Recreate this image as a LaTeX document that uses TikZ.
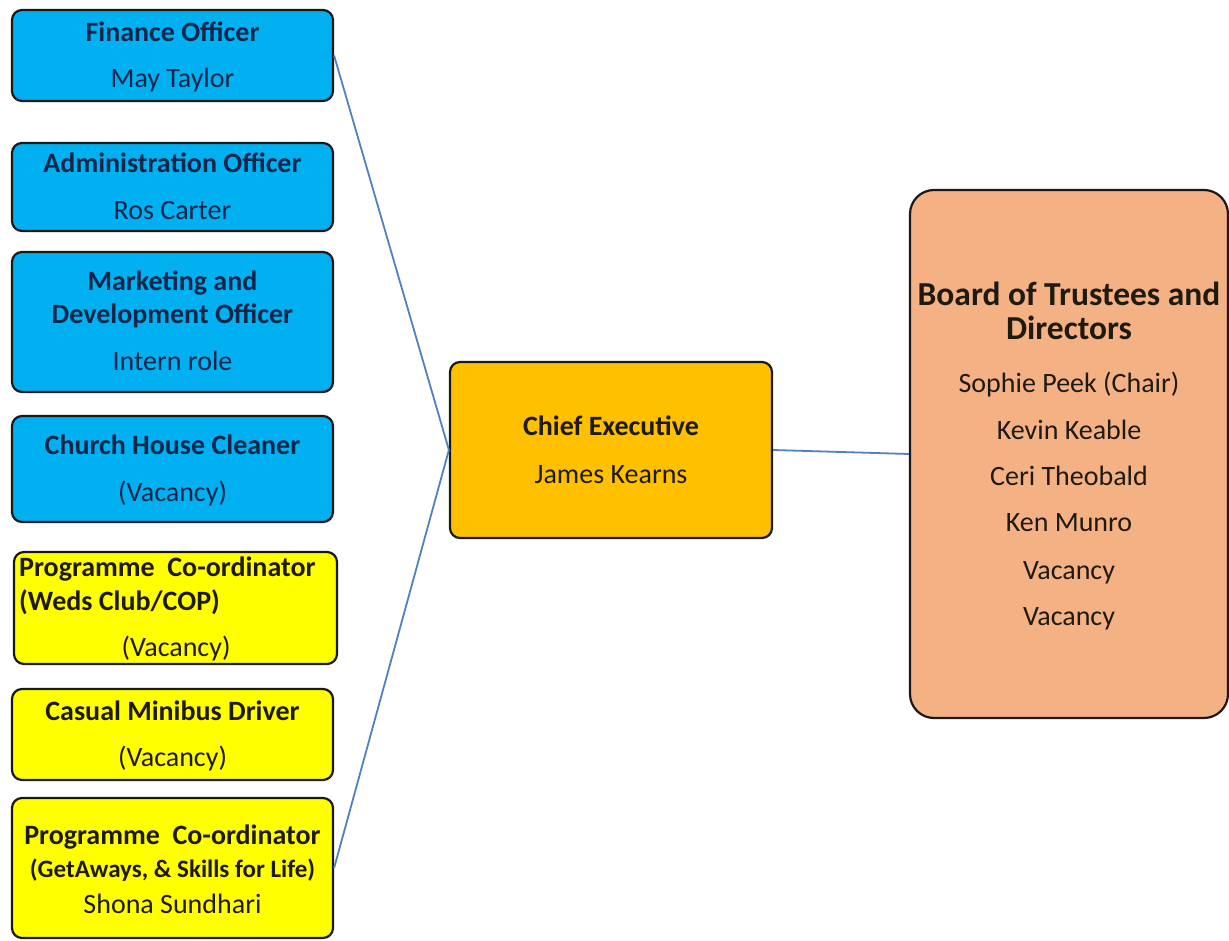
\documentclass[tikz,border=0pt]{standalone}
\usepackage{fontspec}
\setmainfont{Carlito}
\definecolor{bluefill}{HTML}{00B0F0}
\definecolor{yelfill}{HTML}{FFFF00}
\definecolor{chieffill}{HTML}{FFC000}
\definecolor{boardfill}{HTML}{F4B183}
\definecolor{navytext}{HTML}{10264A}
\definecolor{darktext}{HTML}{1E1A10}
\definecolor{linkblue}{HTML}{4F81BD}
\tikzset{
  box/.style={draw=black!90, line width=2.2pt, rounded corners=10pt, inner sep=0pt},
  bluebox/.style={box, fill=bluefill},
  yelbox/.style={box, fill=yelfill},
  chiefbox/.style={box, fill=chieffill},
  boardbox/.style={box, fill=boardfill, rounded corners=24pt},
  txt/.style={inner sep=0pt, text height=0.62em, text depth=0pt, yshift=-5pt},
  headb/.style={txt, font=\fontsize{28}{32}\selectfont\bfseries, text=navytext},
  nameb/.style={txt, font=\fontsize{28}{32}\selectfont, text=navytext},
  heady/.style={txt, font=\fontsize{28}{32}\selectfont\bfseries, text=darktext},
  namey/.style={txt, font=\fontsize{28}{32}\selectfont, text=darktext},
  smally/.style={txt, font=\fontsize{25}{28}\selectfont\bfseries, text=darktext},
  boardhead/.style={txt, font=\fontsize{33.5}{36}\selectfont\bfseries, text=darktext},
  link/.style={draw=linkblue, line width=1.8pt}
}
\begin{document}
\begin{tikzpicture}[x=1pt,y=-1pt]
\useasboundingbox (0,0) rectangle (1229,941);
% boxes
\node[bluebox, minimum width=321, minimum height=91] (fin) at (172.5,55.5) {};
\node[bluebox, minimum width=321, minimum height=88] (adm) at (172.5,187) {};
\node[bluebox, minimum width=321, minimum height=140] (mkt) at (172.5,322) {};
\node[bluebox, minimum width=321, minimum height=106] (cln) at (172.5,469) {};
\node[yelbox, minimum width=323, minimum height=112] (pc1) at (175.5,608) {};
\node[yelbox, minimum width=321, minimum height=91] (drv) at (172.5,734.5) {};
\node[yelbox, minimum width=321, minimum height=140] (pc2) at (172.5,868) {};
\node[chiefbox, minimum width=322, minimum height=176] (chief) at (611,450) {};
\node[boardbox, minimum width=318, minimum height=528] (board) at (1069,454) {};
% connectors
\draw[link] (fin.east) -- (chief.west);
\draw[link] (pc2.east) -- (chief.west);
\draw[link] (chief.east) -- (board.west);
% texts
\node[headb] (fin1) at (172.5,33) {Finance Officer};
\node[nameb] (fin2) at (172.5,79) {May Taylor};
\node[headb] (adm1) at (172.5,164) {Administration Officer};
\node[nameb] (adm2) at (172.5,211) {Ros Carter};
\node[headb] (mkt1) at (172.5,282) {Marketing and};
\node[headb] (mkt2) at (172.5,315) {Development Officer};
\node[nameb] (mkt3) at (172.5,362) {Intern role};
\node[headb] (cln1) at (172.5,446) {Church House Cleaner};
\node[nameb] (cln2) at (172.5,493) {(Vacancy)};
\node[heady, anchor=west] (pc1a) at (19,568) {Programme\ \ Co-ordinator};
\node[heady, anchor=west] (pc1b) at (19,602) {(Weds Club/COP)};
\node[namey] (pc1c) at (176,648) {(Vacancy)};
\node[heady] (drv1) at (172.5,712) {Casual Minibus Driver};
\node[namey] (drv2) at (172.5,758) {(Vacancy)};
\node[heady] (pc2a) at (172.5,836) {Programme\ \ Co-ordinator};
\node[smally] (pc2b) at (172.5,869) {(GetAways, \& Skills for Life)};
\node[namey] (pc2c) at (172.5,905) {Shona Sundhari};
\node[heady] (ce1) at (611,427) {Chief Executive};
\node[namey] (ce2) at (611,475) {James Kearns};
\node[boardhead] (bd1) at (1069,297) {Board of Trustees and};
\node[boardhead] (bd2) at (1069,331) {Directors};
\node[namey] (bd3) at (1069,384) {Sophie Peek (Chair)};
\node[namey] (bd4) at (1069,431) {Kevin Keable};
\node[namey] (bd5) at (1069,477) {Ceri Theobald};
\node[namey] (bd6) at (1069,523) {Ken Munro};
\node[namey] (bd7) at (1069,571) {Vacancy};
\node[namey] (bd8) at (1069,617) {Vacancy};
\end{tikzpicture}
\end{document}
